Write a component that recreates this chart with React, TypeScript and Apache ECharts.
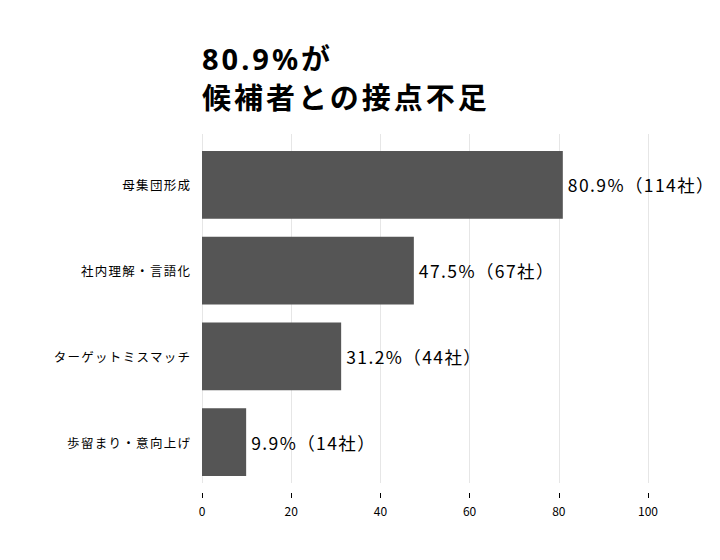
import React, { useEffect, useRef } from "react";
import * as echarts from "echarts";

const categories = ["母集団形成", "社内理解・言語化", "ターゲットミスマッチ", "歩留まり・意向上げ"];
const percents = [80.9, 47.5, 31.2, 9.9];
const companies = [114, 67, 44, 14];
const xTicks = [0, 20, 40, 60, 80, 100];
const titleLines = ["80.9%が", "候補者との接点不足"];

const FONT = "'Noto Sans CJK JP', 'Noto Sans', sans-serif";
const TITLE_FONT = "'Noto Sans', 'Noto Sans CJK JP', sans-serif";

function applySpacing(root: HTMLElement | null) {
  if (!root) return;
  root.querySelectorAll("text").forEach((t) => {
    const fs = parseFloat(getComputedStyle(t).fontSize || "12");
    const anchor = t.getAttribute("text-anchor") || getComputedStyle(t).textAnchor;
    let ls = 0;
    if (fs >= 25) ls = 3;
    else if (fs >= 15) ls = 1.4;
    else if (anchor === "end") ls = 1.3;
    if (ls) t.setAttribute("letter-spacing", String(ls));
  });
}

export default function App() {
  const ref = useRef<HTMLDivElement>(null);
  useEffect(() => {
    document.body.style.margin = "0";
    const chart = echarts.init(ref.current!, null, { renderer: "svg" });
    const titleStyle = { fontFamily: TITLE_FONT, fontSize: 29, fontWeight: "bold", color: "#000", lineHeight: 35 };
    chart.setOption({
      animation: false,
      textStyle: { fontFamily: FONT },
      title: [
        { text: titleLines[0], left: 197, top: 35.5, padding: 5, textStyle: titleStyle },
        { text: titleLines[1], left: 197, top: 75, padding: 5, textStyle: titleStyle },
      ],
      grid: [
        { left: 202, right: 72, top: 134, bottom: 77, containLabel: false },
        { left: 202, right: 72, top: 142, bottom: 75, containLabel: false },
      ],
      xAxis: [
        {
          gridIndex: 0, type: "value", min: xTicks[0], max: xTicks[xTicks.length - 1], interval: 20,
          axisLine: { show: false }, axisTick: { show: false }, axisLabel: { show: false },
          splitLine: { show: true, lineStyle: { color: "#e6e6e6", width: 1 } },
        },
        {
          gridIndex: 1, type: "value", min: xTicks[0], max: xTicks[xTicks.length - 1], interval: 20,
          offset: 8,
          axisLine: { show: false },
          axisTick: { show: true, length: 5, lineStyle: { color: "#000" } },
          axisLabel: { margin: 11, fontSize: 12, color: "#000", fontFamily: FONT },
          splitLine: { show: false },
        },
      ],
      yAxis: [
        { gridIndex: 0, type: "category", data: categories, inverse: true, show: false },
        {
          gridIndex: 1, type: "category", data: categories, inverse: true,
          axisLine: { show: false }, axisTick: { show: false },
          axisLabel: { margin: 10.7, fontSize: 12.5, color: "#000", fontFamily: FONT },
        },
      ],
      series: [
        {
          type: "bar",
          xAxisIndex: 1,
          yAxisIndex: 1,
          data: percents,
          barCategoryGap: "21%",
          itemStyle: { color: "#555555" },
          label: {
            show: true,
            position: "right",
            distance: 5,
            fontSize: 17.5,
            color: "#000",
            fontFamily: FONT,
            formatter: (p: any) => `${percents[p.dataIndex]}%（${companies[p.dataIndex]}社）`,
          },
        },
      ],
    });
    const fix = () => applySpacing(ref.current);
    chart.on("finished", fix);
    fix();
    const t = setTimeout(fix, 50);
    return () => {
      clearTimeout(t);
      chart.dispose();
    };
  }, []);
  return <div ref={ref} style={{ width: 720, height: 560 }} />;
}
